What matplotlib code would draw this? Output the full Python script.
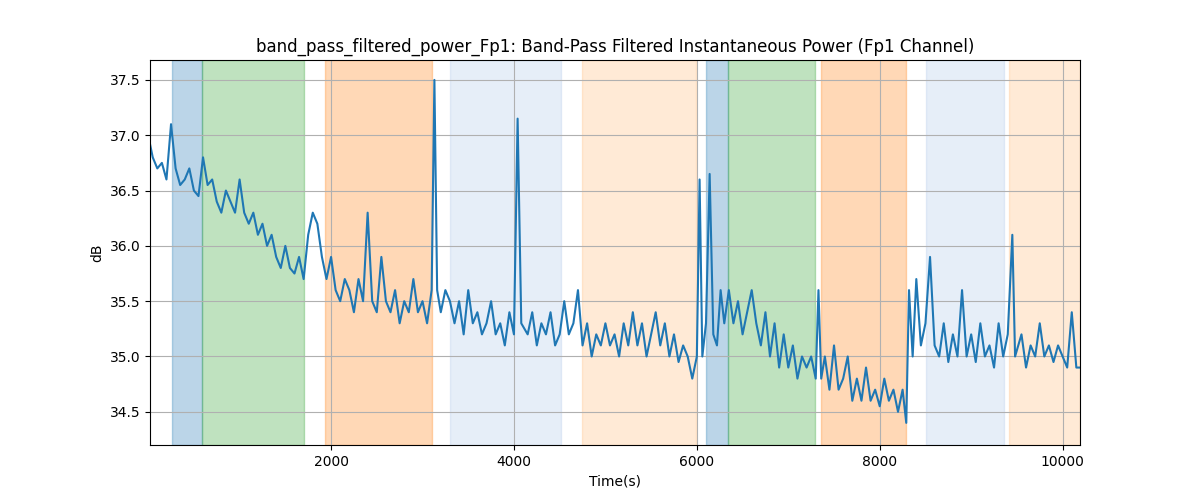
import matplotlib
matplotlib.use("Agg")
import matplotlib.pyplot as plt

time_s = [0,50,100,150,200,250,300,350,400,450,500,550,600,650,700,750,800,850,900,950,
          1000,1050,1100,1150,1200,1250,1300,1350,1400,1450,1500,1550,1600,1650,1700,1750,1800,1850,1900,1950,
          2000,2050,2100,2150,2200,2250,2300,2350,2400,2450,2500,2550,2600,2650,2700,2750,2800,2850,2900,2950,
          3000,3050,3100,3130,3160,3200,3250,3300,3350,3400,3450,3500,3550,3600,3650,3700,3750,3800,3850,3900,
          3950,4000,4040,4080,4150,4200,4250,4300,4350,4400,4450,4500,4550,4600,4650,4700,4750,4800,4850,4900,
          4950,5000,5050,5100,5150,5200,5250,5300,5350,5400,5450,5500,5550,5600,5650,5700,5750,5800,5850,5900,
          5950,6000,6030,6060,6100,6140,6180,6220,6260,6300,6350,6400,6450,6500,6550,6600,6650,6700,6750,6800,
          6850,6900,6950,7000,7050,7100,7150,7200,7250,7300,7330,7360,7400,7450,7500,7550,7600,7650,7700,7750,
          7800,7850,7900,7950,8000,8050,8100,8150,8200,8250,8290,8320,8360,8400,8450,8500,8550,8600,8650,8700,
          8750,8800,8850,8900,8950,9000,9050,9100,9150,9200,9250,9300,9350,9400,9450,9480,9550,9600,9650,9700,
          9750,9800,9850,9900,9950,10000,10050,10100,10150,10190]
power_db = [37.0,36.8,36.7,36.75,36.6,37.1,36.7,36.55,36.6,36.7,36.5,36.45,36.8,36.55,36.6,36.4,36.3,36.5,36.4,36.3,
            36.6,36.3,36.2,36.3,36.1,36.2,36.0,36.1,35.9,35.8,36.0,35.8,35.75,35.9,35.7,36.1,36.3,36.2,35.9,35.7,
            35.9,35.6,35.5,35.7,35.6,35.4,35.7,35.5,36.3,35.5,35.4,35.9,35.5,35.4,35.6,35.3,35.5,35.4,35.7,35.4,
            35.5,35.3,35.6,37.5,35.6,35.4,35.6,35.5,35.3,35.5,35.2,35.6,35.3,35.4,35.2,35.3,35.5,35.2,35.3,35.1,
            35.4,35.2,37.15,35.3,35.2,35.4,35.1,35.3,35.2,35.4,35.1,35.2,35.5,35.2,35.3,35.6,35.1,35.3,35.0,35.2,
            35.1,35.3,35.1,35.2,35.0,35.3,35.1,35.4,35.1,35.3,35.0,35.2,35.4,35.1,35.3,35.0,35.2,34.95,35.1,35.0,
            34.8,35.0,36.6,35.0,35.3,36.65,35.2,35.1,35.6,35.3,35.6,35.3,35.5,35.2,35.4,35.6,35.3,35.1,35.4,35.0,
            35.3,34.9,35.2,34.9,35.1,34.8,35.0,34.9,35.0,34.8,35.6,34.8,35.0,34.7,35.1,34.7,34.8,35.0,34.6,34.8,
            34.6,34.9,34.6,34.7,34.55,34.8,34.6,34.7,34.5,34.7,34.4,35.6,35.0,35.7,35.1,35.3,35.9,35.1,35.0,35.3,
            34.95,35.2,35.0,35.6,35.0,35.2,34.95,35.3,35.0,35.1,34.9,35.3,35.0,35.2,36.1,35.0,35.2,34.9,35.1,35.0,
            35.3,35.0,35.1,34.95,35.1,35.0,34.9,35.4,34.9,34.9]

span_starts = [262, 590, 1934, 3300, 4743, 6098, 6339, 7355, 8503, 9410]
span_ends = [590, 1705, 3104, 4514, 5989, 6339, 7290, 8284, 9355, 10190]
span_colors = ["tab:blue", "tab:green", "tab:orange", "#aec7e8", "#ffbb78",
               "tab:blue", "tab:green", "tab:orange", "#aec7e8", "#ffbb78"]

fig, ax = plt.subplots(figsize=(12, 5), dpi=100)
for s, e, c in zip(span_starts, span_ends, span_colors):
    ax.axvspan(s, e, color=c, alpha=0.3, lw=1)
ax.plot(time_s, power_db, color="tab:blue", lw=1.5)
ax.set_xlim(20, 10190)
ax.set_ylim(34.2, 37.68)
ax.grid(True)
ax.set_xlabel("Time(s)")
ax.set_ylabel("dB")
ax.set_title("band_pass_filtered_power_Fp1: Band-Pass Filtered Instantaneous Power (Fp1 Channel)")
fig.savefig("out.png")
